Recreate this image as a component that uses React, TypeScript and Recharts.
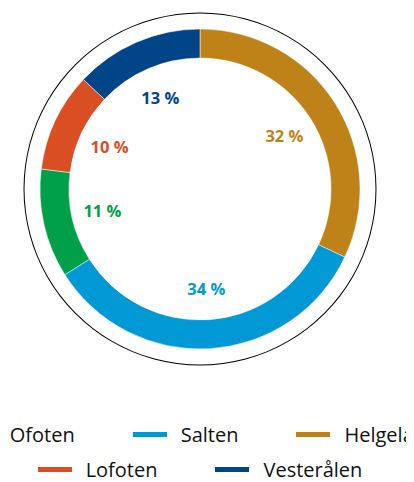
import React from "react";
import { PieChart, Pie, Cell, Legend } from "recharts";

const categories = ["Helgeland", "Salten", "Ofoten", "Lofoten", "Vesterålen"];
const shares = [32, 34, 11, 10, 13];
const colors = ["#BE8219", "#0099D6", "#00A04A", "#D94E22", "#004587"];
const legendOrder = ["Ofoten", "Salten", "Helgeland", "Lofoten", "Vesterålen"];

const data = categories.map((name, i) => ({ name, value: shares[i], color: colors[i] }));
const ring = [{ name: "ring", value: 1 }];

const RAD = Math.PI / 180;

const renderLabel = (props: any) => {
  const { cx, cy, midAngle, index } = props;
  const r = 100;
  const x = cx + r * Math.cos(-midAngle * RAD);
  const y = cy + r * Math.sin(-midAngle * RAD);
  return (
    <text
      x={x}
      y={y}
      fill={colors[index]}
      textAnchor="middle"
      dominantBaseline="central"
      fontFamily="'Open Sans', sans-serif"
      fontWeight={700}
      fontSize={16.5}
    >
      {`${shares[index]} %`}
    </text>
  );
};

const renderLegend = () => (
  <div
    style={{
      display: "flex",
      flexWrap: "wrap",
      justifyContent: "center",
      columnGap: 58,
      width: 520,
      fontFamily: "'Open Sans', sans-serif",
      fontSize: 20,
      lineHeight: "24px",
      color: "#111",
    }}
  >
    {legendOrder.map((name) => {
      const c = colors[categories.indexOf(name)];
      return (
        <div key={name} style={{ display: "flex", alignItems: "center", height: 35 }}>
          <span style={{ display: "inline-block", width: 34, height: 5, background: c, marginRight: 14 }} />
          <span>{name}</span>
        </div>
      );
    })}
  </div>
);

export default function App() {
  return (
    <div style={{ width: 406, height: 474, overflow: "hidden" }}>
      <div style={{ marginLeft: -68 }}>
        <PieChart width={520} height={474} margin={{ top: 0, right: 0, bottom: 0, left: 0 }}>
          <Pie
            data={ring}
            dataKey="value"
            cx={260}
            cy={181}
            innerRadius={175.5}
            outerRadius={176.5}
            startAngle={90}
            endAngle={-270}
            fill="#000"
            stroke="none"
            isAnimationActive={false}
            legendType="none"
          />
          <Pie
            data={data}
            dataKey="value"
            nameKey="name"
            cx={260}
            cy={181}
            innerRadius={131}
            outerRadius={160}
            startAngle={90}
            endAngle={-270}
            stroke="#fff"
            strokeWidth={0.5}
            label={renderLabel}
            labelLine={false}
            isAnimationActive={false}
          >
            {data.map((d) => (
              <Cell key={d.name} fill={d.color} />
            ))}
          </Pie>
          <Legend
            content={renderLegend}
            wrapperStyle={{ position: "absolute", top: 409, left: 0, width: 520 }}
          />
        </PieChart>
      </div>
    </div>
  );
}
